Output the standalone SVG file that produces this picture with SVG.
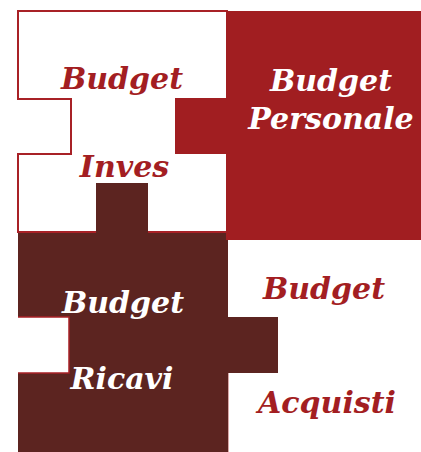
<svg xmlns="http://www.w3.org/2000/svg" width="421" height="452" viewBox="0 0 421 452">
<style>
.t{font-family:"DejaVu Serif","Liberation Serif",serif;font-weight:bold;font-style:italic;font-size:30px;text-anchor:middle}
.r{fill:#a31e22}
.w{fill:#ffffff}
</style>
<rect width="421" height="452" fill="#ffffff"/>
<g id="piece-investimenti">
<path d="M18,11 H227 V232 H18 V154 H71 V99 H18 Z" fill="#ffffff" stroke="#a82126" stroke-width="2"/>
<text class="t r" x="122" y="89">Budget</text>
<text class="t r" x="124.5" y="177">Inves</text>
</g>
<g id="piece-acquisti">
<text class="t r" x="324" y="299">Budget</text>
<text class="t r" x="327" y="413">Acquisti</text>
</g>
<g id="piece-ricavi">
<path d="M18,233 H96 V183 H148 V233 H228 V317 H278 V373 H228 V452 H18 V373 H69 V317 H18 Z" fill="#5c2420"/>
<path d="M18,317 H69 V373 H18" fill="none" stroke="#a82126" stroke-width="1.5"/>
<line x1="228.5" y1="373" x2="228.5" y2="452" stroke="#d9a9a9" stroke-width="1"/>
<text class="t w" x="123" y="313">Budget</text>
<text class="t w" x="122" y="389">Ricavi</text>
</g>
<g id="piece-personale">
<path d="M226,11 H421 V240 H226 V154 H175 V98 H226 Z" fill="#a11e21"/>
<text class="t w" x="331" y="91">Budget</text>
<text class="t w" x="331" y="129">Personale</text>
</g>
<g id="connectors"/>
</svg>
